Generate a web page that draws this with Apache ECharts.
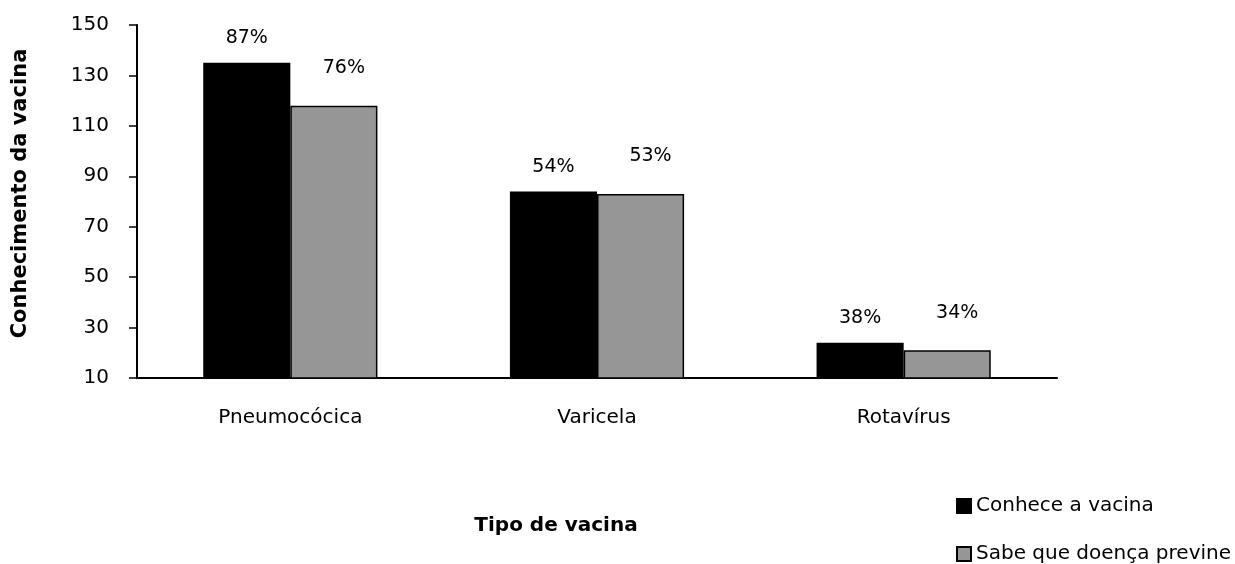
<!DOCTYPE html>
<html>
<head>
<meta charset="utf-8">
<script src="https://cdn.jsdelivr.net/npm/echarts@6/dist/echarts.min.js"></script>
<style>html,body{margin:0;padding:0;background:#fff}#c{width:1235px;height:564px}</style>
</head>
<body>
<div id="c"></div>
<script>
const categories = ['Pneumocócica', 'Varicela', 'Rotavírus'];
const seriesNames = ['Conhece a vacina', 'Sabe que doença previne'];
const conheceValues = [135, 84, 24];
const sabeValues = [118, 83, 21];
const conheceLabels = ['87%', '54%', '38%'];
const sabeLabels = ['76%', '53%', '34%'];
const yTicks = { min: 10, max: 150, interval: 20 };

const FONT = 'DejaVu Sans';
const legendText = { fontFamily: FONT, fontSize: 20, color: '#000' };
const chart = echarts.init(document.getElementById('c'));
chart.setOption({
  animation: false,
  backgroundColor: '#fff',
  textStyle: { fontFamily: FONT, color: '#000' },
  grid: { left: 137, right: 178, top: 25, bottom: 186, containLabel: false },
  legend: [
    { left: 951, top: 491, itemWidth: 14, itemHeight: 14, itemGap: 4, icon: 'rect',
      textStyle: legendText, data: [seriesNames[0]] },
    { left: 951, top: 539, itemWidth: 14, itemHeight: 14, itemGap: 4, icon: 'rect',
      textStyle: legendText, data: [seriesNames[1]] }
  ],
  xAxis: {
    type: 'category', data: categories,
    name: 'Tipo de vacina', nameLocation: 'middle', nameGap: 138,
    nameTextStyle: { fontFamily: FONT, fontSize: 20, fontWeight: 'bold', color: '#000', padding: [0, 82, 0, 0] },
    axisLine: { lineStyle: { color: '#000', width: 2 } },
    axisTick: { show: false },
    axisLabel: { fontFamily: FONT, fontSize: 20, color: '#000', margin: 30 }
  },
  yAxis: {
    type: 'value', min: yTicks.min, max: yTicks.max, interval: yTicks.interval,
    name: 'Conhecimento da vacina', nameLocation: 'middle', nameGap: 106,
    nameTextStyle: { fontFamily: FONT, fontSize: 21, fontWeight: 'bold', color: '#000', padding: [0, 0, 0, 16] },
    axisLine: { show: true, lineStyle: { color: '#000', width: 2 } },
    axisTick: { show: true, length: 8, lineStyle: { color: '#000', width: 1.5 } },
    axisLabel: { fontFamily: FONT, fontSize: 20, color: '#000', margin: 28 },
    splitLine: { show: false }
  },
  series: [
    {
      name: seriesNames[0], type: 'bar', data: conheceValues, barWidth: '28.4%', barGap: '0%',
      itemStyle: { color: '#000', borderColor: '#000', borderWidth: 1.5 },
      label: { show: true, position: 'top', distance: 15, fontFamily: FONT, fontSize: 19, color: '#000',
        formatter: p => conheceLabels[p.dataIndex] }
    },
    {
      name: seriesNames[1], type: 'bar', data: sabeValues, barWidth: '28.4%', barGap: '0%',
      itemStyle: { color: '#969696', borderColor: '#000', borderWidth: 1.5 },
      label: { show: true, position: 'top', distance: 28, offset: [10, 0], fontFamily: FONT, fontSize: 19, color: '#000',
        formatter: p => sabeLabels[p.dataIndex] }
    }
  ]
});
</script>
</body>
</html>
